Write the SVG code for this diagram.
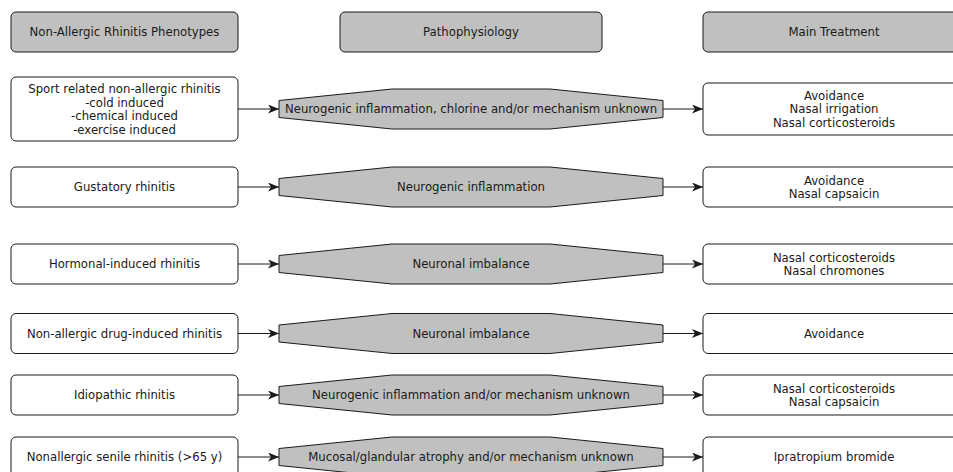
<svg xmlns="http://www.w3.org/2000/svg" width="953" height="472" viewBox="0 0 953 472">
<defs>
<style>
.box{fill:#ffffff;stroke:#1a1a1a;stroke-width:1}
.hdr{fill:#c0c0c0;stroke:#1a1a1a;stroke-width:1}
.hex{fill:#c0c0c0;stroke:#1a1a1a;stroke-width:1}
.t{font-family:"DejaVu Sans","Liberation Sans",sans-serif;font-size:11.7px;fill:#1a1a1a;text-anchor:middle;dominant-baseline:central}
.edge{stroke:#1a1a1a;stroke-width:1;fill:none;marker-end:url(#arr)}
</style>
<marker id="arr" viewBox="0 0 11 9" refX="11" refY="4.5" markerWidth="11" markerHeight="9" markerUnits="userSpaceOnUse" orient="auto">
<path d="M0,0 L11,4.5 L0,9 L3,4.5 Z" fill="#1a1a1a"/>
</marker>
</defs>
<rect width="953" height="472" fill="#ffffff"/>

<g id="headers">
<g id="h1"><rect class="hdr" x="11" y="12" width="227" height="40" rx="5"/><text class="t" x="124.5" y="32">Non-Allergic Rhinitis Phenotypes</text></g>
<g id="h2"><rect class="hdr" x="340" y="12" width="262" height="40" rx="5"/><text class="t" x="471" y="32">Pathophysiology</text></g>
<g id="h3"><rect class="hdr" x="703" y="12" width="262" height="40" rx="5"/><text class="t" x="834" y="32">Main Treatment</text></g>
</g>

<g id="connectors">
<line class="edge" x1="238" y1="109" x2="279" y2="109"/>
<line class="edge" x1="663" y1="109" x2="703" y2="109"/>
<line class="edge" x1="238" y1="187" x2="279" y2="187"/>
<line class="edge" x1="663" y1="187" x2="703" y2="187"/>
<line class="edge" x1="238" y1="264" x2="279" y2="264"/>
<line class="edge" x1="663" y1="264" x2="703" y2="264"/>
<line class="edge" x1="238" y1="333.5" x2="279" y2="333.5"/>
<line class="edge" x1="663" y1="333.5" x2="703" y2="333.5"/>
<line class="edge" x1="238" y1="395" x2="279" y2="395"/>
<line class="edge" x1="663" y1="395" x2="703" y2="395"/>
<line class="edge" x1="238" y1="457" x2="279" y2="457"/>
<line class="edge" x1="663" y1="457" x2="703" y2="457"/>
</g>

<g id="row1">
<g id="p1"><rect class="box" x="11" y="77" width="227" height="64" rx="5"/>
<text class="t" x="124.5" y="89.3">Sport related non-allergic rhinitis</text>
<text class="t" x="124.5" y="102.8">-cold induced</text>
<text class="t" x="124.5" y="116.3">-chemical induced</text>
<text class="t" x="124.5" y="129.8">-exercise induced</text></g>
<g id="m1"><polygon class="hex" points="279,100.5 392,89 550,89 663,100.5 663,117.5 550,129 392,129 279,117.5"/>
<text class="t" x="471" y="109">Neurogenic inflammation, chlorine and/or mechanism unknown</text></g>
<g id="r1"><rect class="box" x="703" y="83" width="262" height="52" rx="5"/>
<text class="t" x="834" y="95.5">Avoidance</text>
<text class="t" x="834" y="109">Nasal irrigation</text>
<text class="t" x="834" y="122.5">Nasal corticosteroids</text></g>
</g>

<g id="row2">
<g id="p2"><rect class="box" x="11" y="167" width="227" height="40" rx="5"/><text class="t" x="124.5" y="187">Gustatory rhinitis</text></g>
<g id="m2"><polygon class="hex" points="279,178.5 392,167 550,167 663,178.5 663,195.5 550,207 392,207 279,195.5"/><text class="t" x="471" y="187">Neurogenic inflammation</text></g>
<g id="r2"><rect class="box" x="703" y="167" width="262" height="40" rx="5"/>
<text class="t" x="834" y="180.5">Avoidance</text>
<text class="t" x="834" y="194">Nasal capsaicin</text></g>
</g>

<g id="row3">
<g id="p3"><rect class="box" x="11" y="244" width="227" height="40" rx="5"/><text class="t" x="124.5" y="264">Hormonal-induced rhinitis</text></g>
<g id="m3"><polygon class="hex" points="279,255.5 392,244 550,244 663,255.5 663,272.5 550,284 392,284 279,272.5"/><text class="t" x="471" y="264">Neuronal imbalance</text></g>
<g id="r3"><rect class="box" x="703" y="244" width="262" height="40" rx="5"/>
<text class="t" x="834" y="257.5">Nasal corticosteroids</text>
<text class="t" x="834" y="271">Nasal chromones</text></g>
</g>

<g id="row4">
<g id="p4"><rect class="box" x="11" y="313.5" width="227" height="40" rx="5"/><text class="t" x="124.5" y="333.5">Non-allergic drug-induced rhinitis</text></g>
<g id="m4"><polygon class="hex" points="279,325 392,313.5 550,313.5 663,325 663,342 550,353.5 392,353.5 279,342"/><text class="t" x="471" y="333.5">Neuronal imbalance</text></g>
<g id="r4"><rect class="box" x="703" y="313.5" width="262" height="40" rx="5"/><text class="t" x="834" y="333.5">Avoidance</text></g>
</g>

<g id="row5">
<g id="p5"><rect class="box" x="11" y="375" width="227" height="40" rx="5"/><text class="t" x="124.5" y="395">Idiopathic rhinitis</text></g>
<g id="m5"><polygon class="hex" points="279,386.5 392,375 550,375 663,386.5 663,403.5 550,415 392,415 279,403.5"/><text class="t" x="471" y="395">Neurogenic inflammation and/or mechanism unknown</text></g>
<g id="r5"><rect class="box" x="703" y="375" width="262" height="40" rx="5"/>
<text class="t" x="834" y="388.5">Nasal corticosteroids</text>
<text class="t" x="834" y="402">Nasal capsaicin</text></g>
</g>

<g id="row6">
<g id="p6"><rect class="box" x="11" y="437" width="227" height="40" rx="5"/><text class="t" x="124.5" y="457">Nonallergic senile rhinitis (&gt;65 y)</text></g>
<g id="m6"><polygon class="hex" points="279,448.5 392,437 550,437 663,448.5 663,465.5 550,477 392,477 279,465.5"/><text class="t" x="471" y="457">Mucosal/glandular atrophy and/or mechanism unknown</text></g>
<g id="r6"><rect class="box" x="703" y="437" width="262" height="40" rx="5"/><text class="t" x="834" y="457">Ipratropium bromide</text></g>
</g>
</svg>
